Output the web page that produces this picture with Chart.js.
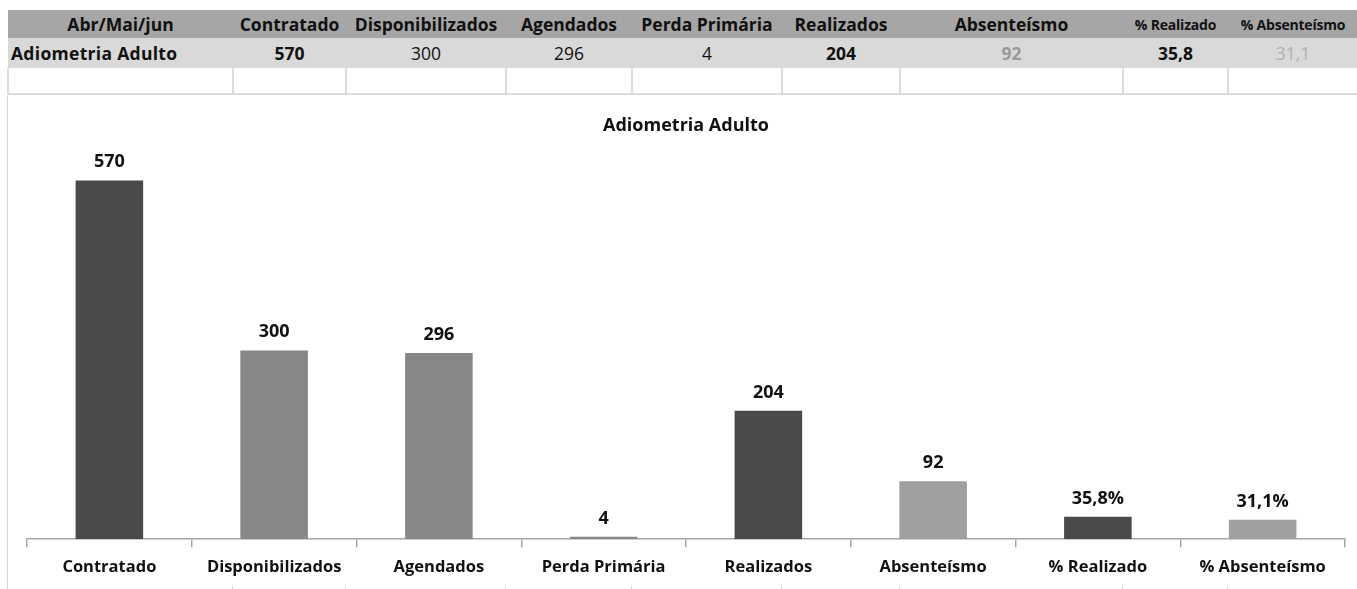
<!DOCTYPE html>
<html>
<head>
<meta charset="utf-8">
<title>Adiometria Adulto</title>
<script src="https://cdn.jsdelivr.net/npm/chart.js@4.4.1/dist/chart.umd.min.js"></script>
<style>
  body { margin: 0; background: #fff; font-family: "Open Sans", Lato, sans-serif; color: #111; }
  #resumo { position: absolute; left: 7px; top: 10px; width: 1350px; border-collapse: collapse; table-layout: fixed; }
  #resumo th { background: #a6a6a6; height: 28px; padding: 0; font-size: 17.5px; font-weight: bold; text-align: center; white-space: nowrap; overflow: visible; }
  #resumo th.pequeno { font-size: 14px; letter-spacing: -0.2px; }
  #resumo tr.dados td { background: #d9d9d9; height: 30px; padding: 0; font-size: 17.5px; text-align: center; }
  #resumo tr.dados td.nome { text-align: left; padding-left: 3px; font-weight: bold; letter-spacing: 0.3px; }
  #resumo tr.vazia td { height: 25px; padding: 0; border: 2px solid #dcdcdc; border-top: none; }
  .negrito { font-weight: bold; }
  .cinza { color: #9a9a9a; font-weight: bold; }
  .claro { color: #b0b0b0; }
  #borda { position: absolute; left: 7px; top: 96px; width: 1px; height: 493px; background: #d9d9d9; }
  .marca { position: absolute; top: 586px; width: 1px; height: 3px; background: #d9d9d9; }
  #grafico { position: absolute; left: 8px; top: 97px; }
</style>
</head>
<body>
<table id="resumo"></table>
<div id="borda"></div>
<canvas id="grafico" width="1349" height="492"></canvas>
<script>
// --- DADOS ---
const periodo = 'Abr/Mai/jun';
const servico = 'Adiometria Adulto';
const categorias = ['Contratado', 'Disponibilizados', 'Agendados', 'Perda Primária', 'Realizados', 'Absenteísmo', '% Realizado', '% Absenteísmo'];
const valores = [570, 300, 296, 4, 204, 92, 35.8, 31.1];
const sufixos = ['', '', '', '', '', '', '%', '%'];

// --- ESTILO ---
const largurasColunas = [225, 113, 160, 126, 150, 118, 223, 105, 130];
const classesValores = ['negrito', '', '', '', 'negrito', 'cinza', 'negrito', 'claro'];
const coresBarras = ['#4a4a4a', '#878787', '#878787', '#898989', '#4a4a4a', '#a0a0a0', '#4a4a4a', '#a0a0a0'];
const fonte = '"Open Sans"';

function formatar(v) {
    return String(v).replace('.', ',');
}

// --- TABELA RESUMO ---
function montarTabela() {
    const tabela = document.getElementById('resumo');
    let html = '<colgroup>' + largurasColunas.map(w => `<col style="width:${w}px">`).join('') + '</colgroup>';
    html += `<tr><th>${periodo}</th>` + categorias.map(c => `<th class="${c.startsWith('%') ? 'pequeno' : ''}">${c}</th>`).join('') + '</tr>';
    html += `<tr class="dados"><td class="nome">${servico}</td>` + valores.map((v, i) => `<td class="${classesValores[i]}">${formatar(v)}</td>`).join('') + '</tr>';
    html += '<tr class="vazia">' + largurasColunas.map(() => '<td></td>').join('') + '</tr>';
    tabela.innerHTML = html;

    // pontinhas das linhas da planilha aparecendo embaixo do grafico
    let x = 7;
    largurasColunas.slice(0, -1).forEach(w => {
        x += w;
        const m = document.createElement('div');
        m.className = 'marca';
        m.style.left = x + 'px';
        document.body.appendChild(m);
    });
}

// rótulos de valor em cima das barras
const rotulosBarras = {
    id: 'rotulosBarras',
    afterDatasetsDraw(chart) {
        const ctx = chart.ctx;
        const meta = chart.getDatasetMeta(0);
        ctx.save();
        ctx.font = `bold 18px ${fonte}`;
        ctx.fillStyle = '#111';
        ctx.textAlign = 'center';
        ctx.textBaseline = 'alphabetic';
        meta.data.forEach((bar, i) => {
            ctx.fillText(formatar(valores[i]) + sufixos[i], bar.x, bar.y - 13);
        });
        ctx.restore();
    }
};

function montarGrafico() {
    const ctx = document.getElementById('grafico');
    new Chart(ctx, {
        type: 'bar',
        data: {
            labels: categorias,
            datasets: [{
                data: valores,
                backgroundColor: coresBarras,
                barPercentage: 0.41,
                categoryPercentage: 1
            }]
        },
        options: {
            responsive: false,
            animation: false,
            devicePixelRatio: 1,
            layout: { padding: { left: 19, right: 12, top: 0, bottom: 2 } },
            plugins: {
                legend: { display: false },
                tooltip: { enabled: false },
                title: {
                    display: true,
                    text: servico,
                    color: '#111',
                    font: { family: fonte, size: 18, weight: 'bold' },
                    padding: { top: 18, bottom: 25 }
                }
            },
            scales: {
                y: { display: false, min: 0, max: 600 },
                x: {
                    grid: { offset: true, drawOnChartArea: false, tickLength: 8, color: '#a6a6a6', lineWidth: 1.5 },
                    border: { color: '#a6a6a6', width: 1.5 },
                    ticks: {
                        color: '#111',
                        font: { family: fonte, size: 16.5, weight: 'bold' },
                        padding: 10,
                        maxRotation: 0,
                        autoSkip: false
                    }
                }
            }
        },
        plugins: [rotulosBarras]
    });
}

montarTabela();
montarGrafico();
</script>
</body>
</html>
